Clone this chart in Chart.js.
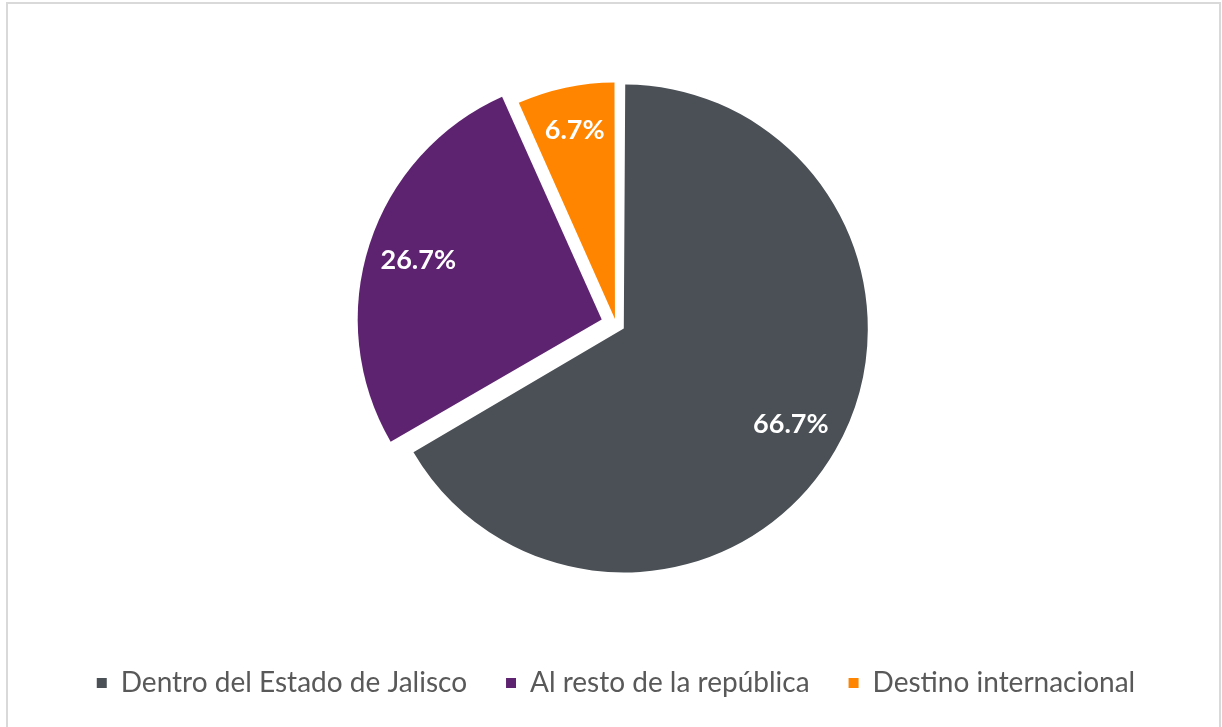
<!DOCTYPE html>
<html lang="es">
<head>
<meta charset="utf-8">
<title>Destino</title>
<script src="https://cdn.jsdelivr.net/npm/chart.js@4/dist/chart.umd.min.js"></script>
<style>
    html, body { margin: 0; padding: 0; background: #fff; overflow: hidden; }
    #marco { position: absolute; left: 6px; top: 2px; width: 1215px; height: 760px; border: 2px solid #d9d9d9; box-sizing: border-box; }
    #grafica { position: absolute; left: 0; top: 0; }
</style>
</head>
<body>
<div id="marco"></div>
<canvas id="grafica" width="1222" height="727"></canvas>
<script>
    // ===== Datos =====
    const categorias = ['Dentro del Estado de Jalisco', 'Al resto de la república', 'Destino internacional'];
    const porcentajes = [66.7, 26.7, 6.7];

    // ===== Estilo =====
    const colores = ['#4a5056', '#5e2370', '#ff8500'];
    const separacion = [36, 60, 20];      // offset de Chart.js (se desplaza offset/4)
    const escalaRadio = [1, 1, 0.97];     // el sector naranja queda un poco más chico, como en Excel
    const GRIS = '#595959';

    Chart.defaults.font.family = "Lato, 'Open Sans', sans-serif";
    Chart.defaults.animation = false;

    // Chart.js agranda el radio de los sectores separados; lo dejamos parejo
    const radioParejo = {
        id: 'radioParejo',
        afterDatasetUpdate(chart, args) {
            args.meta.data.forEach((arc, i) => {
                const off = (separacion[i] || 0) / 4;
                const fix = 1 - Math.sin(Math.min(Math.PI, arc.circumference || 0));
                arc.outerRadius = arc.outerRadius * escalaRadio[i] - off * fix;
            });
        }
    };

    // Etiquetas de porcentaje dentro de cada sector
    const etiquetas = {
        id: 'etiquetas',
        afterDatasetsDraw(chart) {
            const ctx = chart.ctx;
            const meta = chart.getDatasetMeta(0);
            const base = meta.controller.outerRadius;
            ctx.save();
            ctx.font = "bold 27px Lato, 'Open Sans', sans-serif";
            ctx.fillStyle = '#ffffff';
            ctx.textAlign = 'center';
            ctx.textBaseline = 'middle';
            meta.data.forEach((arc, i) => {
                const mid = (arc.startAngle + arc.endAngle) / 2;
                const d = separacion[i] / 4 + base * 0.79;
                ctx.fillText(porcentajes[i].toFixed(1) + '%', arc.x + Math.cos(mid) * d, arc.y + Math.sin(mid) * d);
            });
            ctx.restore();
        }
    };

    new Chart(document.getElementById('grafica'), {
        type: 'pie',
        data: {
            labels: categorias,
            datasets: [{
                data: porcentajes,
                backgroundColor: colores,
                borderWidth: 0,
                offset: separacion
            }]
        },
        options: {
            responsive: false,
            radius: 244,
            layout: { padding: { top: 18, bottom: 20, left: 10, right: 0 } },
            plugins: {
                legend: {
                    position: 'bottom',
                    labels: {
                        color: GRIS,
                        boxWidth: 10,
                        boxHeight: 10,
                        padding: 39,
                        font: { size: 28 }
                    }
                },
                tooltip: { enabled: false }
            },
            events: []
        },
        plugins: [radioParejo, etiquetas]
    });
</script>
</body>
</html>
